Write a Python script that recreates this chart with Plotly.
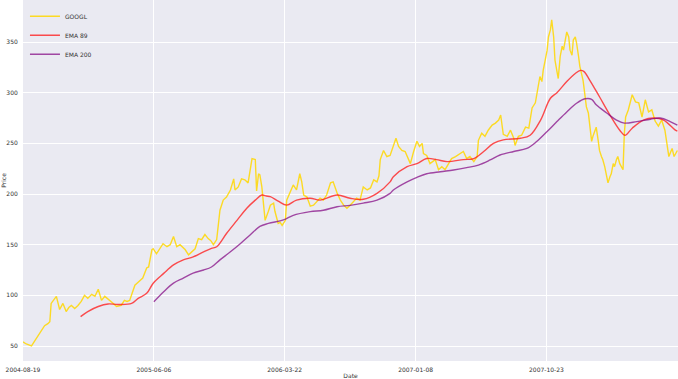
import plotly.graph_objects as go

# ---- data (x = trading-day index) ----
tick_index = [0, 200, 400, 600, 800]
tick_dates = ["2004-08-19", "2005-06-06", "2006-03-22", "2007-01-08", "2007-10-23"]

price_idx = [0, 5, 13, 18, 23, 28, 33, 38, 41, 43, 47, 51, 56, 61, 66, 70, 74, 79, 84, 89,
             94, 99, 105, 110, 115, 120, 125, 129, 133, 138, 143, 150, 155, 159, 163, 167, 171, 176, 179, 183,
             189, 192, 197, 199, 204, 209, 214, 220, 225, 230, 235, 240, 244, 248, 253, 258, 263, 268, 273, 278,
             283, 287, 291, 296, 299, 301, 306, 311, 317, 322, 324, 329, 334, 339, 344, 347, 350, 355, 357, 360,
             362, 365, 370, 375, 378, 383, 385, 390, 393, 396, 401, 403, 408, 413, 418, 423, 426, 429, 434, 439,
             444, 449, 454, 459, 464, 470, 474, 480, 485, 490, 495, 500, 505, 510, 515, 520, 526, 531, 536, 541,
             544, 546, 551, 556, 561, 566, 570, 574, 579, 584, 589, 592, 597, 602, 606, 610, 612, 617, 622, 626,
             630, 635, 640, 645, 650, 655, 661, 668, 673, 678, 683, 689, 694, 696, 701, 706, 711, 717, 722, 727,
             730, 734, 740, 745, 750, 752, 757, 762, 768, 773, 778, 783, 788, 790, 793, 795, 798, 801, 803, 806,
             808, 811, 813, 816, 818, 821, 824, 826, 829, 831, 834, 836, 839, 841, 844, 846, 849, 851, 856, 859,
             861, 864, 866, 869, 871, 874, 876, 879, 881, 884, 886, 889, 892, 894, 897, 899, 902, 904, 907, 909,
             912, 914, 917, 919, 921, 925, 931, 936, 941, 946, 951, 956, 961, 966, 971, 976, 981, 984, 987, 992,
             995, 1000]
price_val = [54, 52, 50, 55, 61, 66, 70, 72, 74, 92, 96, 99, 86, 92, 84, 88, 90, 87, 90, 94,
             100, 97, 101, 99, 106, 95, 99, 97, 95, 92, 89, 90, 95, 94, 95, 102, 110, 113, 115, 117,
             127, 128, 145, 146, 141, 146, 151, 148, 150, 158, 148, 150, 147, 145, 140, 143, 146, 156, 155, 160,
             156, 154, 150, 155, 170, 184, 194, 197, 204, 215, 204, 207, 215, 214, 211, 225, 235, 234, 203, 220,
             219, 207, 174, 183, 189, 191, 183, 171, 172, 169, 174, 194, 202, 209, 204, 220, 212, 199, 197, 188,
             189, 193, 196, 194, 199, 211, 212, 201, 194, 189, 186, 189, 193, 196, 194, 207, 204, 206, 214, 212,
             218, 234, 243, 237, 238, 247, 255, 247, 243, 242, 235, 230, 242, 252, 247, 250, 240, 238, 230, 232,
             234, 224, 227, 224, 230, 235, 237, 240, 242, 235, 237, 232, 237, 253, 260, 257, 263, 268, 270, 273,
             278, 259, 257, 263, 255, 248, 257, 258, 266, 265, 285, 290, 306, 316, 311, 322, 332, 342, 355, 362,
             372, 355, 332, 322, 314, 336, 346, 342, 352, 360, 355, 342, 337, 352, 355, 349, 336, 326, 312, 299,
             286, 280, 266, 252, 257, 263, 266, 253, 243, 237, 234, 227, 219, 211, 217, 220, 230, 227, 234, 237,
             230, 227, 224, 260, 276, 283, 298, 291, 290, 276, 293, 281, 283, 272, 267, 273, 263, 250, 237, 245,
             237, 243]

ema89_idx = [88, 99, 115, 130, 145, 166, 176, 189, 199, 215, 230, 245, 260, 276, 288, 296, 311, 327, 342, 355,
             365, 372, 378, 390, 403, 418, 439, 454, 480, 500, 520, 541, 561, 566, 587, 602, 617, 632, 648, 673,
             689, 704, 719, 734, 760, 775, 791, 806, 816, 831, 844, 852, 857, 866, 881, 897, 912, 920, 931, 948,
             964, 979, 997, 1000]
ema89_val = [79, 84, 89, 91.5, 91, 92, 97, 102, 112, 121.7, 130, 135, 138, 143, 146.4, 148, 161, 174, 186, 194,
             199, 198, 197.4, 193, 189, 194, 195.8, 194, 199, 195.8, 194.8, 200.7, 212, 217, 227, 230, 235, 234, 232, 234,
             235, 242, 250, 253.5, 255, 258, 273, 294.5, 300, 311, 319, 322, 321, 312.5, 296, 278, 263, 258, 265, 273,
             275, 273, 263, 262]

ema200_idx = [200, 215, 230, 245, 260, 276, 288, 301, 317, 332, 347, 362, 375, 398, 413, 439, 459, 480, 500, 520,
              541, 561, 566, 587, 602, 617, 638, 658, 678, 696, 714, 729, 750, 770, 785, 801, 816, 831, 846, 859,
              869, 876, 892, 907, 919, 938, 959, 974, 989, 1000]
ema200_val = [93.7, 103.6, 112, 117, 122, 125, 128, 135, 143, 151, 159.6, 168, 171, 174.4, 179, 182.6, 184, 187.5, 188.8, 191,
              194, 200.7, 204, 212, 216.5, 220, 222, 223.7, 226, 228.6, 233.6, 238.5, 242, 245, 251.8, 261.7, 271.5, 281, 289.6, 294,
              293.5, 288, 280, 273, 270, 271.5, 273.8, 275, 271.5, 268]

y_ticks = [50, 100, 150, 200, 250, 300, 350]

FONT = "DejaVu Sans"
TXT = "#333333"

fig = go.Figure()
fig.add_trace(go.Scatter(x=price_idx, y=price_val, mode="lines", name="GOOGL",
                         line=dict(color="rgba(255,215,0,0.85)", width=1.4)))
fig.add_trace(go.Scatter(x=ema89_idx, y=ema89_val, mode="lines", name="EMA 89",
                         line=dict(color="rgba(255,20,20,0.75)", width=1.4, shape="spline")))
fig.add_trace(go.Scatter(x=ema200_idx, y=ema200_val, mode="lines", name="EMA 200",
                         line=dict(color="rgba(128,0,128,0.7)", width=1.4, shape="spline")))

fig.update_layout(
    width=678, height=379,
    margin=dict(l=23, r=0, t=0, b=18),
    paper_bgcolor="white",
    plot_bgcolor="#EAEAF2",
    font=dict(family=FONT, size=6, color=TXT),
    showlegend=True,
    legend=dict(x=0.003, y=0.995, xanchor="left", yanchor="top",
                bgcolor="rgba(0,0,0,0)", font=dict(size=6, color=TXT),
                itemwidth=30, tracegroupgap=0),
    xaxis=dict(range=[0, 1001], tickmode="array", tickvals=tick_index, ticktext=tick_dates,
               showgrid=True, gridcolor="white", gridwidth=1, zeroline=False,
               ticks="outside", ticklen=3, tickcolor="rgba(0,0,0,0)",
               showline=False, automargin=False,
               title=dict(text="Date", font=dict(size=6, color=TXT), standoff=2)),
    yaxis=dict(range=[35.2, 391.5], tickmode="array", tickvals=y_ticks,
               showgrid=True, gridcolor="white", gridwidth=1, zeroline=False,
               ticks="outside", ticklen=3, tickcolor="rgba(0,0,0,0)",
               showline=False, automargin=False,
               title=dict(text="Price", font=dict(size=6, color=TXT), standoff=4)),
)

fig.write_html("out.html")
